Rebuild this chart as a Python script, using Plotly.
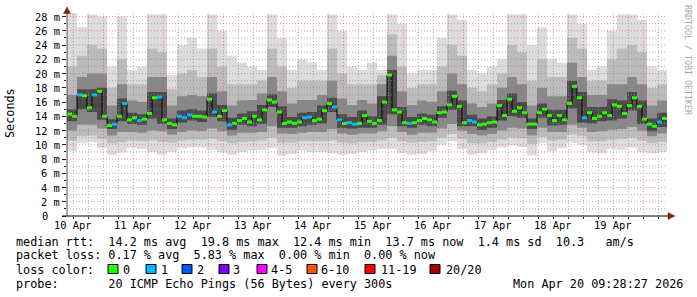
import plotly.graph_objects as go
import pandas as pd

START = "2026-04-10 09:28:27"
END = "2026-04-20 09:28:27"

# median RTT (ms), 2-hour bins
median_ms = [
    14.3, 14.0, 17.0, 16.9, 15.2, 17.0, 17.5, 14.0, 12.7, 12.9, 14.0, 15.8,
    13.5, 13.8, 13.4, 13.6, 14.4, 16.6, 16.7, 13.5, 13.0, 12.8, 14.0, 13.8,
    14.2, 14.0, 14.0, 13.9, 16.4, 14.6, 14.0, 14.8, 12.8, 13.0, 13.4, 13.7,
    13.2, 14.0, 13.5, 14.9, 16.3, 16.0, 14.6, 13.0, 13.2, 13.0, 13.2, 13.8,
    13.9, 13.4, 13.6, 14.8, 15.8, 15.3, 13.5, 13.0, 13.1, 12.9, 13.0, 14.1,
    13.3, 13.0, 13.4, 16.0, 19.8, 14.9, 14.6, 13.1, 13.0, 13.1, 13.4, 13.7,
    13.5, 13.2, 14.5, 14.6, 15.6, 16.8, 15.4, 13.1, 13.4, 13.2, 12.8, 12.9,
    13.1, 13.2, 15.5, 14.1, 16.4, 14.7, 15.2, 14.5, 12.9, 12.9, 14.5, 15.0,
    14.1, 13.4, 14.1, 13.5, 15.8, 18.2, 16.6, 13.8, 14.5, 13.7, 14.0, 14.5,
    14.1, 15.6, 15.4, 14.4, 15.5, 16.6, 15.4, 13.6, 12.9, 12.6, 13.2, 13.7,
]
# lost pings per bin (of 20)
loss_count = [
    0, 0, 1, 0, 0, 1, 0, 0, 0, 1, 0, 1, 0, 0, 1, 0, 0, 0, 1, 0, 0, 0, 1, 1,
    1, 0, 0, 0, 0, 1, 0, 0, 1, 0, 0, 0, 0, 0, 0, 0, 0, 0, 0, 0, 0, 0, 0, 1,
    1, 0, 0, 0, 0, 1, 1, 0, 1, 1, 0, 0, 0, 0, 0, 0, 0, 0, 0, 0, 1, 0, 0, 0,
    0, 0, 0, 0, 0, 0, 0, 0, 1, 1, 0, 0, 0, 0, 0, 0, 0, 0, 0, 0, 0, 0, 0, 0,
    0, 0, 0, 0, 0, 0, 0, 1, 0, 0, 0, 0, 0, 0, 0, 0, 0, 0, 0, 0, 0, 0, 1, 0,
]

# smoke (ping distribution, ms), 4-hour bins
smoke_min = [9.1, 10.2, 10.4, 9.5, 8.6, 8.9, 9.5, 9.4, 9.0, 8.6, 9.0, 9.5,
             9.6, 9.6, 9.3, 8.9, 8.6, 9.0, 9.2, 9.3, 9.5, 8.5, 8.7, 9.2,
             9.0, 9.0, 8.8, 8.6, 8.7, 9.0, 9.2, 9.4, 9.4, 8.8, 8.6, 8.7,
             9.1, 10.0, 10.5, 9.4, 8.6, 8.8, 9.3, 9.6, 9.9, 9.7, 8.5, 10.2,
             9.1, 9.5, 10.3, 10.0, 8.9, 8.8, 9.4, 9.3, 9.6, 9.0, 8.8, 9.0]
smoke_p10 = [10.6, 11.2, 11.3, 10.8, 10.2, 10.4, 10.6, 10.5, 10.6, 10.4, 10.3, 10.6,
             10.7, 10.7, 10.8, 10.5, 10.2, 10.4, 10.5, 10.6, 11.0, 10.3, 10.3, 10.5,
             10.5, 10.5, 10.6, 10.3, 10.2, 10.4, 10.4, 10.6, 11.0, 10.5, 10.3, 10.4,
             10.5, 11.0, 11.5, 10.8, 10.2, 10.2, 10.4, 10.7, 11.0, 10.9, 10.1, 11.1,
             10.6, 10.7, 11.4, 11.2, 10.5, 10.5, 10.7, 10.8, 11.0, 10.6, 10.2, 10.4]
smoke_p25 = [12.0, 12.8, 12.8, 12.3, 11.3, 11.8, 11.8, 11.7, 12.0, 11.9, 11.4, 11.8,
             12.0, 11.9, 12.3, 11.9, 11.3, 11.7, 11.7, 11.8, 12.6, 11.6, 11.5, 11.7,
             11.8, 11.8, 12.2, 11.6, 11.4, 11.6, 11.6, 11.9, 12.6, 11.8, 11.4, 11.7,
             11.7, 12.3, 12.9, 12.0, 11.5, 11.3, 11.5, 12.0, 12.4, 12.3, 11.3, 12.4,
             11.8, 11.8, 12.8, 12.4, 11.8, 11.9, 12.1, 12.2, 12.5, 12.0, 11.2, 11.6]
smoke_p40 = [13.3, 15.0, 14.6, 13.5, 12.2, 13.3, 12.9, 12.8, 13.7, 12.9, 12.2, 13.1,
             13.4, 13.2, 13.9, 13.3, 12.1, 12.8, 12.6, 12.9, 15.3, 12.4, 12.4, 12.6,
             12.8, 13.0, 14.6, 12.4, 12.3, 12.4, 12.4, 12.8, 14.3, 12.6, 12.4, 12.8,
             12.6, 13.8, 14.9, 12.6, 12.6, 12.1, 12.4, 13.4, 14.0, 13.8, 12.2, 13.8,
             12.7, 12.8, 15.1, 13.1, 13.0, 13.3, 13.4, 13.7, 14.8, 12.9, 11.9, 12.5]
smoke_p60 = [15.0, 17.8, 17.8, 18.0, 13.6, 16.5, 14.5, 14.3, 17.4, 17.4, 13.7, 14.8,
             15.0, 14.8, 17.2, 15.6, 13.8, 14.4, 14.7, 15.6, 17.1, 15.4, 13.9, 14.5,
             14.6, 15.5, 16.6, 14.3, 13.9, 14.8, 14.0, 16.8, 20.5, 15.3, 13.9, 14.4,
             14.2, 15.4, 17.6, 16.2, 14.2, 13.7, 14.0, 16.3, 17.2, 16.0, 13.7, 15.8,
             14.9, 14.9, 19.0, 17.4, 15.3, 15.3, 16.4, 16.2, 17.4, 16.2, 13.7, 14.5]
smoke_p75 = [17.0, 19.5, 20.0, 20.0, 15.5, 18.5, 16.2, 16.0, 19.5, 19.5, 15.5, 16.8,
             17.0, 16.8, 19.5, 17.5, 15.5, 16.2, 16.3, 17.2, 19.5, 17.5, 15.8, 16.3,
             16.3, 17.0, 19.0, 16.5, 15.6, 16.3, 15.8, 18.5, 22.5, 17.5, 15.6, 16.2,
             16.0, 17.5, 20.0, 18.5, 15.8, 15.3, 15.8, 18.0, 19.5, 18.5, 15.5, 18.0,
             16.8, 16.8, 21.5, 19.5, 17.0, 17.0, 18.5, 18.5, 19.5, 18.5, 15.5, 16.2]
smoke_p90 = [21.0, 22.5, 24.0, 23.5, 18.0, 22.0, 18.5, 18.5, 23.5, 23.0, 17.8, 20.0,
             20.5, 19.5, 23.5, 21.0, 18.5, 18.5, 18.5, 19.0, 23.5, 21.0, 18.0, 19.0,
             19.0, 19.0, 23.5, 20.0, 18.5, 18.5, 18.5, 19.8, 25.5, 21.0, 18.0, 18.5,
             18.5, 21.0, 24.0, 22.5, 18.0, 17.5, 18.5, 20.0, 24.0, 23.0, 19.0, 22.0,
             19.5, 19.5, 25.0, 23.5, 19.0, 19.0, 22.0, 23.5, 24.0, 23.0, 18.0, 18.5]
smoke_max = [28.5, 26.5, 28.3, 28.0, 21.0, 28.0, 20.5, 21.0, 28.3, 28.3, 19.8, 24.0,
             25.0, 23.5, 28.3, 26.0, 22.5, 21.5, 21.0, 20.5, 28.3, 25.0, 20.5, 22.0,
             21.5, 20.5, 28.3, 26.0, 21.0, 20.5, 21.5, 20.5, 28.3, 27.0, 20.0, 20.5,
             20.5, 25.0, 28.3, 27.5, 20.5, 20.0, 21.0, 22.0, 28.3, 28.3, 24.0, 26.5,
             22.0, 21.5, 28.3, 27.0, 20.5, 21.0, 26.0, 28.3, 28.3, 27.5, 21.0, 20.5]

y_tick_values = [0, 2, 4, 6, 8, 10, 12, 14, 16, 18, 20, 22, 24, 26, 28]
y_tick_labels = ["0", "2 m", "4 m", "6 m", "8 m", "10 m", "12 m", "14 m",
                 "16 m", "18 m", "20 m", "22 m", "24 m", "26 m", "28 m"]
day_labels = ["10 Apr", "11 Apr", "12 Apr", "13 Apr", "14 Apr",
              "15 Apr", "16 Apr", "17 Apr", "18 Apr", "19 Apr"]
day_label_times = ["2026-04-10 12:00", "2026-04-11 12:00", "2026-04-12 12:00",
                   "2026-04-13 12:00", "2026-04-14 12:00", "2026-04-15 12:00",
                   "2026-04-16 12:00", "2026-04-17 12:00", "2026-04-18 12:00",
                   "2026-04-19 12:00"]

loss_legend_labels = ["0", "1", "2", "3", "4-5", "6-10", "11-19", "20/20"]
loss_legend_colors = ["#26ff00", "#00b8ff", "#0059ff", "#7e00ff",
                      "#ff00ff", "#ff5500", "#ff0000", "#a10000"]
loss_box_px = [108, 146, 182, 219, 257, 307, 365, 430]
loss_text_px = [123, 161, 197, 233, 271, 321, 381, 446]

line_median = "median rtt:  14.2 ms avg  19.8 ms max  12.4 ms min  13.7 ms now  1.4 ms sd  10.3   am/s"
line_loss = "packet loss: 0.17 % avg  5.83 % max  0.00 % min  0.00 % now"
line_color = "loss color:"
line_probe = "probe:       20 ICMP Echo Pings (56 Bytes) every 300s"
stamp = "Mon Apr 20 09:28:27 2026"
credit = "RRDTOOL / TOBI OETIKER"

# ---------------------------------------------------------------
L, R, T, B = 67, 30, 13, 81
W, H = 697, 297
PW = W - L - R
PH = H - T - B


def px(x):
    return (x - L) / PW


def py(y):
    return (T + PH - y) / PH


def nb(s):
    return s.replace(" ", "\u00a0")


MONO = "DejaVu Sans Mono"
FS = 11.8
FS_AX = 10.4

t0 = pd.Timestamp(START)
t1 = pd.Timestamp(END)
med_t = [t0 + pd.Timedelta(hours=2 * i) for i in range(len(median_ms))]
smoke_t = [t0 + pd.Timedelta(hours=4 * k) for k in range(len(smoke_min))]


def ext(a):
    return list(a) + [a[-1]]


fig = go.Figure()
sx = smoke_t + [t1]
bands = [(smoke_min, smoke_max, "#dcdcdc"),
         (smoke_p10, smoke_p90, "#bcbcbc"),
         (smoke_p25, smoke_p75, "#888888"),
         (smoke_p40, smoke_p60, "#4a4a4a")]
for lo, hi, col in bands:
    fig.add_trace(go.Scatter(x=sx, y=ext(lo), mode="lines",
                             line=dict(width=0, shape="hv"), hoverinfo="skip"))
    fig.add_trace(go.Scatter(x=sx, y=ext(hi), mode="lines",
                             line=dict(width=0, shape="hv"), fill="tonexty",
                             fillcolor=col, hoverinfo="skip"))

fig.add_trace(go.Scatter(x=med_t + [t1], y=ext(median_ms), mode="lines",
                         line=dict(color="#000000", width=1, shape="hv"),
                         hoverinfo="skip"))
centers = [t + pd.Timedelta(hours=1) for t in med_t]
mcolors = [loss_legend_colors[min(c, 3)] for c in loss_count]
fig.add_trace(go.Scatter(x=centers, y=median_ms, mode="markers",
                         marker=dict(symbol="line-ew", size=3.6,
                                     line=dict(width=3, color=mcolors)),
                         hoverinfo="skip"))

shapes = []
G_MIN = "rgba(143,143,143,0.75)"
G_MAJ = "rgba(222,79,79,0.6)"
for v in range(1, 29):
    shapes.append(dict(type="line", xref="paper", yref="y", x0=0, x1=1, y0=v, y1=v,
                       line=dict(color=G_MAJ if v % 2 == 0 else G_MIN, width=1,
                                 dash="1px,2px"), layer="above"))
gt = pd.Timestamp("2026-04-10 12:00")
while gt < t1:
    shapes.append(dict(type="line", xref="x", yref="paper", x0=gt, x1=gt, y0=0, y1=1,
                       line=dict(color=G_MAJ if gt.hour == 0 else G_MIN, width=1,
                                 dash="1px,2px"), layer="above"))
    gt += pd.Timedelta(hours=6)

# axes and arrows
shapes.append(dict(type="line", xref="paper", yref="paper", x0=px(62), x1=px(669),
                   y0=0, y1=0, line=dict(color="#000000", width=1), layer="above"))
shapes.append(dict(type="line", xref="paper", yref="paper", x0=0, x1=0,
                   y0=0, y1=py(12), line=dict(color="#505050", width=1), layer="above"))
ARROW = "#801f1f"
shapes.append(dict(type="path", xref="paper", yref="paper",
                   path=f"M {px(675)} {py(216)} L {px(668)} {py(212.5)} L {px(668)} {py(219.5)} Z",
                   fillcolor=ARROW, line=dict(color=ARROW, width=0.5), layer="above"))
shapes.append(dict(type="path", xref="paper", yref="paper",
                   path=f"M {px(67)} {py(7)} L {px(63.5)} {py(13.5)} L {px(70.5)} {py(13.5)} Z",
                   fillcolor=ARROW, line=dict(color=ARROW, width=0.5), layer="above"))

for bx, col in zip(loss_box_px, loss_legend_colors):
    shapes.append(dict(type="rect", xref="paper", yref="paper",
                       x0=px(bx), x1=px(bx + 10), y0=py(273.5), y1=py(264.5),
                       fillcolor=col, line=dict(color="#000000", width=1)))

font = dict(family=MONO, size=FS, color="#000000")
font_ax = dict(family=MONO, size=FS_AX, color="#000000")
ann = []
for lab, tm in zip(day_labels, day_label_times):
    ann.append(dict(x=pd.Timestamp(tm), xref="x", y=py(225), yref="paper",
                    text=nb(lab), showarrow=False, xanchor="center", yanchor="middle",
                    font=font_ax))
# y tick labels: numbers right-aligned in one column, unit after them
for v, lab in zip(y_tick_values, y_tick_labels):
    right = 62 if lab.endswith("m") else 50
    ann.append(dict(x=px(right), xref="paper", y=v, yref="y", text=nb(lab),
                    showarrow=False, xanchor="right", yanchor="middle", font=font_ax))


def left_text(x, y, s):
    return dict(x=px(x), xref="paper", y=py(y), yref="paper", text=nb(s),
                showarrow=False, xanchor="left", yanchor="middle", font=font)


ann.append(left_text(14, 241.5, line_median))
ann.append(left_text(14, 255.5, line_loss))
ann.append(left_text(14, 269.5, line_color))
ann.append(left_text(14, 283.5, line_probe))
for tx, lab in zip(loss_text_px, loss_legend_labels):
    ann.append(left_text(tx - 2, 269.5, lab))
ann.append(left_text(511, 283.5, stamp))
ann.append(dict(x=px(10), xref="paper", y=py(113), yref="paper", text="Seconds",
                textangle=-90, showarrow=False, xanchor="center", yanchor="middle",
                font=font))
ann.append(dict(x=px(688), xref="paper", y=py(60), yref="paper", text=nb(credit),
                textangle=90, showarrow=False, xanchor="center", yanchor="middle",
                font=dict(family=MONO, size=8.3, color="#a8a8a8")))

fig.update_layout(
    width=W, height=H, margin=dict(l=L, r=R, t=T, b=B),
    paper_bgcolor="#ffffff", plot_bgcolor="#ffffff", showlegend=False,
    shapes=shapes, annotations=ann,
)
fig.update_xaxes(range=[t0, t1], showgrid=False, zeroline=False, showline=False,
                 showticklabels=False, ticks="outside", ticklen=2, tickcolor="#202020",
                 tick0="2026-04-10 00:00", dtick=6 * 3600000)
fig.update_yaxes(range=[0, 28.5], showgrid=False, zeroline=False, showline=False,
                 showticklabels=False, tickmode="array", tickvals=y_tick_values,
                 ticks="outside", ticklen=4, tickcolor="#202020",
                 minor=dict(ticks="outside", ticklen=2, dtick=1, tickcolor="#202020"))

fig.write_html("out.html", config={"displayModeBar": False})
